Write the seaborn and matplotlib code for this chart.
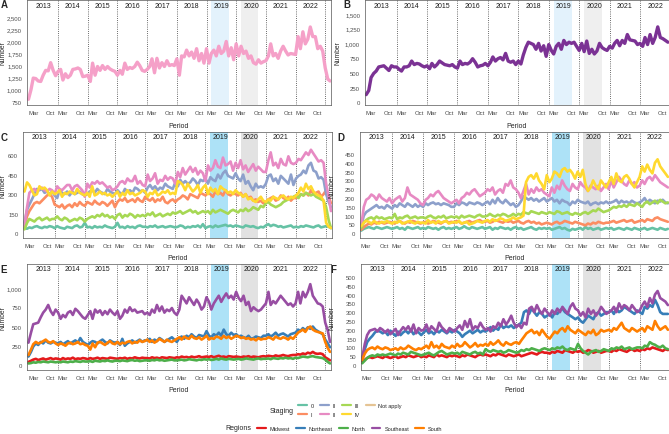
import numpy as np
import pandas as pd
import seaborn as sns
import matplotlib.pyplot as plt
from matplotlib.lines import Line2D

# monthly counts from Jan 2013; panels A, C, E run to Mar 2023, B, D, F to Dec 2022
total_a = [
    800, 1000, 1240, 1230, 1180, 1170, 1300, 1400, 1390, 1560, 1400, 1290,
    1380, 1420, 1200, 1330, 1250, 1300, 1420, 1430, 1450, 1420, 1270, 1280,
    1300, 1170, 1550, 1300, 1480, 1400, 1500, 1420, 1480, 1430, 1400, 1380,
    1300, 1400, 1320, 1550, 1420, 1460, 1440, 1480, 1570, 1500, 1400, 1380,
    1420, 1480, 1640, 1350, 1650, 1450, 1560, 1480, 1600, 1500, 1520, 1500,
    1640, 1300, 1700, 1680, 1820, 1700, 1780, 1650, 1850, 1600, 1750, 1550,
    1850, 1550, 1750, 1820, 1700, 1900, 1750, 1800, 2000, 1700, 1870, 1620,
    1950, 1700, 1900, 1750, 1800, 1650, 1700, 1560, 1530, 1620, 1550, 1580,
    1600, 1700, 1950, 1700, 1750, 1650, 1800, 1900, 1800, 1720, 1750, 1740,
    1730, 2100, 1850, 2200, 1950, 2050, 2300, 2100, 2100, 1850, 1900, 1800,
    1450, 1220, 1180,
]
total_b = [
    130, 200, 420, 490, 530, 600, 610, 620, 580, 540, 620, 600,
    600, 560, 530, 600, 600, 620, 700, 640, 660, 650, 620, 600,
    620, 570, 660, 600, 640, 700, 670, 640, 630, 620, 640, 600,
    580, 700, 640, 660, 650, 680, 740, 680, 600, 620, 630, 660,
    620, 680, 770, 700, 740, 760, 720, 830, 700, 680, 700, 640,
    700, 650, 800, 930, 1020, 1000, 980, 900, 1000, 870, 960, 780,
    980, 880, 820, 950, 1000, 900, 1050, 980, 1020, 1000, 1020, 950,
    880, 1000, 860, 1040, 830, 900, 820, 870, 1000, 930, 900, 880,
    950, 920, 1000, 1050, 960, 1050, 1000, 1150, 1060, 1050, 1040, 980,
    1000, 950, 1100, 980, 1150, 1000, 1100, 1280, 1100, 1080, 1050, 1020,
]

# panel C, by staging
c_stage0 = [
    40, 35, 45, 40, 50, 55, 45, 40, 50, 45, 55, 50,
    40, 55, 45, 40, 35, 50, 45, 40, 55, 60, 45, 50,
    80, 45, 50, 40, 55, 45, 50, 45, 60, 50, 45, 40,
    50, 80, 45, 50, 40, 55, 45, 50, 40, 55, 60, 50,
    50, 45, 55, 50, 60, 45, 50, 55, 45, 50, 55, 50,
    45, 50, 60, 55, 40, 50, 45, 55, 50, 60, 45, 70,
    40, 50, 55, 45, 60, 50, 55, 60, 65, 55, 60, 50,
    60, 55, 50, 45, 60, 55, 50, 55, 45, 40, 50, 45,
    60, 70, 55, 65, 60, 50, 55, 45, 50, 55, 60, 45,
    50, 45, 55, 50, 60, 55, 50, 45, 55, 60, 45, 50,
    55, 50, 40,
]
c_stage1 = [
    50, 130, 170, 200, 230, 240, 230, 250, 270, 290, 300, 280,
    220, 210, 200, 220, 190, 210, 220, 200, 230, 210, 240, 220,
    210, 240, 230, 220, 250, 230, 220, 240, 230, 210, 230, 250,
    200, 240, 260, 250, 270, 240, 250, 260, 240, 270, 250, 240,
    280, 260, 250, 270, 240, 260, 250, 280, 240, 230, 250, 260,
    240, 260, 270, 290, 280, 260, 300, 290, 280, 270, 310, 300,
    290, 310, 300, 280, 320, 300, 310, 290, 330, 300, 290, 310,
    300, 290, 310, 280, 300, 270, 280, 250, 260, 240, 250, 230,
    240, 260, 270, 280, 250, 260, 290, 270, 260, 280, 250, 270,
    270, 280, 300, 290, 310, 290, 330, 300, 310, 320, 280, 300,
    330, 280, 230,
]
c_stage2 = [
    80, 180, 220, 260, 300, 340, 330, 340, 310, 320, 300, 320,
    290, 270, 330, 310, 300, 320, 290, 320, 300, 310, 320, 300,
    290, 300, 320, 330, 310, 340, 320, 310, 300, 340, 320, 310,
    300, 330, 310, 300, 340, 320, 330, 310, 350, 340, 320, 330,
    310, 350, 370, 340, 360, 330, 350, 340, 380, 360, 350, 340,
    390, 360, 410, 380, 400, 380, 390, 420, 400, 370, 410, 400,
    420, 380, 430, 410, 400, 450, 420, 460, 480, 440, 430, 420,
    460, 420, 400, 450, 380, 400, 360, 330, 380, 350, 360, 350,
    380, 440, 450, 400, 420, 380, 440, 420, 400, 380, 450, 370,
    420, 440, 450, 480, 460, 520, 540, 480, 470, 420, 430, 410,
    300, 240, 200,
]
c_stage2b = [
    60, 200, 310, 330, 340, 320, 340, 350, 330, 320, 340, 330,
    300, 360, 340, 330, 350, 370, 370, 330, 360, 370, 350, 330,
    280, 380, 350, 390, 380, 400, 380, 390, 370, 350, 360, 330,
    340, 360, 390, 400, 380, 420, 400, 400, 440, 380, 400, 370,
    360, 450, 400, 420, 460, 380, 410, 400, 440, 410, 430, 420,
    380, 470, 430, 500, 450, 480, 510, 470, 500, 450, 480, 460,
    400, 520, 480, 500, 560, 510, 500, 580, 520, 530, 550, 480,
    540, 500, 560, 490, 520, 470, 500, 530, 480, 510, 490, 470,
    470, 560, 620, 520, 540, 500, 570, 530, 520, 590, 540, 530,
    540, 570, 560, 590, 620, 600, 640, 610, 580, 550, 560, 540,
    380, 280, 170,
]
c_stage3 = [
    30, 80, 110, 100, 90, 110, 120, 100, 110, 120, 100, 110,
    110, 130, 110, 100, 120, 110, 90, 100, 110, 100, 120, 110,
    90, 110, 120, 130, 120, 140, 130, 150, 130, 140, 120, 130,
    110, 140, 150, 120, 140, 130, 150, 140, 120, 140, 130, 140,
    130, 150, 140, 160, 130, 140, 150, 130, 140, 150, 140, 160,
    150, 160, 170, 150, 160, 170, 180, 160, 170, 150, 160, 170,
    160, 170, 150, 180, 160, 170, 180, 170, 160, 150, 170, 180,
    170, 160, 180, 170, 190, 170, 180, 200, 190, 180, 210, 200,
    230, 240, 220, 210, 200, 210, 220, 240, 250, 260, 270, 280,
    290, 270, 300, 290, 310, 300, 290, 300, 280, 270, 260, 250,
    200, 100, 40,
]
c_stage4 = [
    320, 390, 370, 330, 290, 300, 360, 340, 350, 330, 290, 320,
    300, 310, 330, 280, 310, 300, 320, 310, 300, 340, 310, 300,
    290, 310, 280, 360, 290, 300, 320, 300, 310, 290, 300, 280,
    300, 320, 280, 310, 290, 330, 300, 310, 290, 300, 310, 330,
    320, 280, 310, 300, 330, 290, 300, 320, 310, 330, 300, 310,
    300, 400, 390, 370, 330, 380, 350, 320, 340, 370, 310, 350,
    370, 300, 350, 320, 340, 300, 360, 340, 330, 310, 320, 300,
    330, 310, 300, 280, 300, 260, 270, 250, 240, 260, 280, 250,
    240, 260, 250, 280, 270, 260, 280, 290, 270, 260, 280, 270,
    290, 310, 350, 320, 380, 340, 360, 320, 300, 290, 280, 250,
    80, 50, 40,
]

# panel D, by staging
d_stage0 = [
    15, 25, 30, 35, 30, 25, 35, 30, 25, 30, 35, 30,
    25, 30, 35, 25, 30, 20, 35, 30, 25, 30, 35, 25,
    30, 25, 35, 30, 25, 30, 20, 30, 35, 25, 30, 25,
    30, 35, 25, 30, 40, 30, 25, 35, 30, 25, 30, 35,
    25, 30, 35, 20, 30, 25, 35, 30, 25, 30, 20, 30,
    35, 25, 30, 20, 25, 30, 35, 25, 20, 30, 25, 30,
    25, 30, 20, 25, 30, 35, 25, 30, 20, 15, 25, 20,
    25, 30, 20, 35, 25, 30, 20, 25, 30, 20, 25, 30,
    25, 30, 20, 25, 30, 25, 20, 30, 25, 20, 30, 25,
    20, 25, 30, 20, 25, 30, 25, 20, 30, 25, 20, 25,
]
d_stage1 = [
    20, 35, 45, 55, 50, 60, 55, 65, 60, 55, 60, 65,
    60, 55, 65, 70, 60, 55, 65, 60, 70, 65, 60, 55,
    60, 65, 55, 60, 70, 65, 60, 55, 65, 70, 60, 65,
    60, 70, 65, 55, 60, 65, 70, 60, 65, 70, 75, 65,
    65, 70, 60, 65, 75, 70, 65, 60, 70, 65, 70, 60,
    65, 70, 60, 55, 65, 70, 60, 65, 55, 60, 50, 55,
    60, 55, 50, 60, 65, 55, 60, 70, 65, 60, 55, 65,
    60, 55, 50, 45, 55, 50, 60, 55, 65, 60, 55, 60,
    60, 65, 70, 60, 65, 70, 75, 65, 70, 75, 60, 65,
    70, 75, 65, 80, 75, 70, 85, 90, 80, 75, 70, 65,
]
d_stage2 = [
    40, 100, 120, 130, 140, 150, 160, 145, 150, 140, 160, 150,
    140, 160, 150, 170, 160, 150, 170, 160, 150, 165, 150, 160,
    150, 170, 160, 170, 175, 165, 170, 160, 170, 165, 160, 150,
    150, 170, 160, 175, 170, 160, 175, 170, 165, 175, 170, 160,
    170, 180, 165, 190, 170, 200, 180, 170, 190, 175, 160, 170,
    150, 160, 180, 210, 200, 190, 200, 185, 195, 180, 190, 200,
    180, 190, 200, 180, 190, 170, 190, 180, 175, 160, 180, 170,
    190, 180, 175, 170, 180, 160, 170, 175, 165, 175, 170, 180,
    170, 175, 180, 190, 170, 185, 175, 180, 170, 185, 175, 170,
    175, 185, 200, 175, 190, 180, 170, 185, 180, 190, 175, 170,
]
d_stage2b = [
    40, 150, 190, 200, 220, 210, 190, 220, 200, 190, 180, 200,
    170, 190, 200, 210, 180, 200, 260, 220, 210, 200, 190, 170,
    160, 190, 200, 220, 210, 230, 240, 220, 200, 190, 180, 170,
    180, 190, 170, 200, 210, 230, 220, 240, 250, 230, 210, 220,
    230, 250, 240, 260, 220, 240, 250, 230, 280, 270, 300, 260,
    250, 230, 200, 240, 280, 220, 250, 230, 260, 240, 250, 230,
    220, 210, 260, 230, 270, 250, 300, 270, 250, 240, 280, 260,
    250, 290, 270, 260, 240, 270, 260, 250, 270, 240, 260, 280,
    250, 300, 260, 290, 320, 300, 280, 270, 300, 280, 290, 260,
    270, 300, 280, 310, 320, 300, 330, 310, 290, 280, 270, 260,
]
d_stage3 = [
    30, 60, 75, 85, 90, 80, 95, 85, 90, 80, 85, 90,
    85, 110, 80, 90, 85, 95, 100, 85, 90, 95, 85, 90,
    90, 85, 95, 100, 90, 85, 95, 90, 100, 85, 90, 95,
    90, 95, 85, 100, 90, 95, 100, 95, 90, 100, 105, 95,
    95, 100, 110, 100, 95, 105, 100, 110, 105, 95, 100, 110,
    100, 110, 105, 120, 115, 110, 125, 120, 115, 110, 120, 115,
    110, 120, 115, 110, 125, 120, 110, 115, 120, 110, 105, 115,
    110, 105, 115, 120, 110, 120, 130, 125, 140, 130, 120, 125,
    130, 140, 150, 145, 155, 150, 160, 150, 165, 160, 155, 170,
    160, 150, 170, 180, 165, 175, 185, 170, 190, 180, 170, 175,
]
d_stage4 = [
    40, 60, 70, 65, 55, 70, 60, 55, 65, 60, 70, 60,
    55, 65, 60, 70, 55, 60, 65, 70, 60, 55, 65, 60,
    60, 55, 75, 60, 65, 55, 70, 60, 65, 70, 55, 60,
    65, 60, 70, 55, 60, 65, 50, 55, 60, 70, 65, 60,
    70, 75, 65, 80, 70, 75, 85, 80, 70, 75, 80, 90,
    80, 85, 90, 100, 290, 320, 330, 310, 340, 300, 280, 250,
    330, 290, 310, 350, 340, 320, 360, 370, 350, 360, 340, 310,
    350, 320, 360, 280, 240, 260, 300, 270, 250, 300, 280, 260,
    290, 320, 280, 340, 300, 290, 320, 330, 310, 280, 260, 290,
    320, 380, 350, 390, 360, 340, 400, 420, 380, 360, 340, 320,
]

# panel E, by region
e_midwest = [
    40, 55, 70, 80, 65, 75, 85, 70, 80, 90, 75, 85,
    80, 70, 90, 75, 85, 80, 95, 75, 85, 80, 90, 85,
    75, 90, 80, 85, 95, 80, 90, 85, 80, 95, 90, 85,
    80, 90, 85, 95, 80, 90, 85, 100, 90, 85, 95, 90,
    90, 85, 100, 90, 95, 85, 100, 95, 90, 100, 95, 90,
    100, 95, 110, 100, 105, 95, 110, 100, 105, 115, 100, 105,
    110, 105, 115, 100, 110, 120, 105, 110, 100, 115, 110, 105,
    110, 105, 100, 110, 105, 115, 100, 110, 105, 100, 110, 115,
    110, 120, 115, 110, 125, 115, 120, 130, 120, 115, 125, 130,
    130, 140, 135, 150, 140, 160, 150, 170, 150, 145, 150, 140,
    100, 80, 60,
]
e_northeast = [
    110, 170, 240, 280, 260, 300, 280, 320, 290, 280, 300, 290,
    280, 300, 270, 290, 310, 280, 300, 320, 290, 350, 300, 280,
    260, 290, 310, 300, 280, 310, 330, 300, 280, 320, 300, 290,
    300, 260, 340, 250, 280, 300, 320, 290, 310, 330, 300, 320,
    320, 340, 300, 330, 310, 350, 330, 300, 320, 340, 360, 330,
    300, 350, 370, 340, 380, 360, 400, 370, 350, 390, 380, 370,
    440, 380, 360, 400, 380, 420, 380, 460, 400, 380, 420, 390,
    400, 370, 380, 360, 350, 380, 340, 350, 370, 360, 350, 380,
    380, 400, 370, 390, 420, 380, 400, 410, 390, 370, 400, 410,
    420, 460, 440, 480, 450, 490, 470, 500, 460, 440, 420, 400,
    330, 280, 230,
]
e_north = [
    20, 25, 35, 30, 40, 35, 45, 40, 35, 45, 40, 35,
    40, 35, 45, 40, 35, 45, 40, 50, 45, 40, 50, 45,
    45, 50, 40, 55, 50, 45, 55, 50, 60, 50, 45, 55,
    55, 50, 60, 55, 50, 60, 65, 55, 60, 50, 55, 60,
    60, 55, 65, 60, 70, 60, 65, 55, 60, 65, 70, 60,
    60, 65, 70, 60, 65, 75, 70, 65, 60, 70, 65, 75,
    70, 75, 65, 70, 80, 70, 85, 75, 70, 80, 75, 70,
    75, 80, 70, 75, 85, 80, 75, 70, 80, 85, 75, 80,
    80, 85, 75, 90, 85, 80, 90, 85, 95, 85, 90, 80,
    95, 90, 100, 110, 105, 100, 110, 115, 105, 100, 95, 90,
    70, 40, 20,
]
e_southeast = [
    290, 420, 530, 540, 550, 620, 680, 720, 780, 700, 650, 720,
    680, 600, 650, 620, 680, 700, 650, 730, 700, 660, 620, 600,
    650, 700, 600, 720, 680, 710, 650, 700, 660, 720, 680, 650,
    700, 600, 640, 720, 680, 750, 700, 720, 680, 690, 700, 660,
    680, 650, 720, 680, 780, 700, 760, 680, 720, 700, 740, 680,
    650, 720, 900, 850, 800, 880, 830, 780, 850, 800, 720, 760,
    880, 820, 720, 800, 850, 900, 820, 880, 930, 870, 900, 850,
    950, 870, 830, 900, 780, 820, 700, 750, 720, 700, 720, 760,
    800, 950, 780, 830, 800, 850, 900, 860, 820, 780, 800, 760,
    800, 950, 800, 950, 880, 950, 1050, 900, 850, 800, 790, 760,
    550, 450, 300,
]
e_south = [
    130, 200, 270, 300, 280, 290, 310, 330, 300, 290, 310, 280,
    260, 280, 270, 250, 280, 290, 270, 280, 300, 270, 280, 260,
    250, 200, 280, 230, 290, 300, 280, 260, 290, 310, 280, 270,
    300, 270, 290, 280, 300, 310, 280, 300, 290, 320, 300, 310,
    330, 300, 320, 290, 310, 340, 320, 300, 330, 310, 300, 320,
    340, 360, 330, 370, 350, 340, 380, 350, 340, 360, 330, 350,
    380, 330, 350, 340, 370, 360, 340, 380, 350, 370, 340, 360,
    380, 370, 350, 360, 340, 350, 330, 340, 320, 350, 330, 340,
    340, 360, 350, 330, 370, 350, 340, 360, 350, 330, 360, 340,
    380, 420, 440, 460, 430, 480, 500, 460, 440, 430, 420, 410,
    300, 220, 170,
]

# panel F, by region
f_midwest = [
    20, 30, 40, 45, 40, 45, 50, 45, 40, 50, 45, 40,
    45, 50, 40, 45, 50, 45, 55, 50, 45, 50, 55, 45,
    50, 45, 55, 50, 45, 60, 50, 55, 50, 45, 55, 50,
    55, 50, 45, 55, 50, 60, 55, 50, 45, 55, 60, 55,
    60, 55, 50, 60, 55, 65, 60, 55, 50, 60, 55, 50,
    55, 60, 50, 55, 60, 65, 70, 65, 60, 70, 75, 70,
    70, 65, 75, 70, 80, 75, 70, 85, 80, 75, 70, 80,
    75, 80, 70, 75, 85, 80, 70, 75, 80, 70, 75, 80,
    80, 75, 85, 80, 90, 85, 80, 75, 85, 90, 80, 85,
    80, 90, 85, 95, 90, 100, 95, 90, 85, 80, 90, 85,
]
f_northeast = [
    30, 90, 130, 150, 165, 185, 195, 190, 180, 190, 170, 195,
    180, 165, 190, 170, 185, 195, 180, 200, 175, 190, 185, 170,
    185, 200, 180, 190, 175, 195, 185, 200, 190, 180, 195, 185,
    200, 190, 180, 160, 175, 185, 195, 180, 190, 200, 185, 195,
    190, 200, 215, 195, 210, 200, 230, 210, 220, 215, 225, 210,
    220, 230, 240, 300, 310, 290, 320, 300, 280, 300, 290, 270,
    280, 290, 270, 300, 290, 310, 320, 300, 290, 280, 270, 260,
    270, 250, 240, 260, 280, 270, 260, 290, 300, 280, 290, 300,
    300, 310, 290, 320, 300, 310, 330, 320, 310, 300, 290, 310,
    300, 290, 330, 320, 340, 330, 370, 340, 300, 290, 290, 290,
]
f_north = [
    10, 25, 40, 50, 55, 50, 60, 55, 60, 55, 60, 65,
    60, 55, 65, 60, 70, 65, 60, 75, 70, 65, 60, 55,
    60, 65, 70, 60, 55, 65, 75, 80, 70, 60, 65, 70,
    65, 70, 60, 75, 70, 65, 60, 70, 75, 65, 70, 60,
    90, 80, 75, 85, 80, 75, 80, 70, 75, 85, 80, 75,
    70, 75, 85, 80, 90, 85, 95, 90, 85, 80, 90, 95,
    90, 85, 95, 90, 100, 95, 105, 90, 85, 95, 90, 85,
    120, 95, 80, 70, 60, 75, 80, 85, 75, 80, 90, 85,
    80, 95, 90, 100, 95, 105, 90, 95, 100, 90, 95, 100,
    100, 95, 110, 105, 130, 120, 115, 105, 100, 110, 95, 90,
]
f_southeast = [
    40, 120, 170, 195, 200, 205, 190, 210, 200, 185, 200, 175,
    190, 205, 170, 195, 215, 200, 220, 190, 230, 180, 210, 195,
    200, 230, 190, 220, 205, 190, 240, 215, 200, 185, 210, 200,
    190, 210, 225, 200, 250, 215, 260, 200, 220, 210, 240, 215,
    200, 210, 190, 220, 210, 240, 220, 260, 230, 250, 280, 240,
    215, 230, 210, 240, 230, 320, 330, 300, 340, 310, 290, 320,
    300, 280, 310, 290, 320, 300, 330, 310, 290, 330, 350, 320,
    310, 280, 300, 270, 320, 290, 310, 280, 300, 330, 310, 290,
    300, 310, 330, 300, 350, 320, 340, 330, 310, 340, 320, 300,
    310, 340, 360, 330, 380, 350, 400, 420, 380, 370, 360, 340,
]
f_south = [
    30, 65, 85, 95, 100, 90, 105, 95, 90, 100, 95, 85,
    90, 95, 85, 100, 90, 95, 110, 100, 90, 85, 95, 90,
    100, 110, 95, 130, 100, 110, 95, 120, 105, 100, 95, 110,
    100, 120, 105, 110, 130, 115, 100, 110, 125, 105, 115, 110,
    120, 110, 130, 115, 125, 140, 120, 110, 130, 120, 115, 125,
    130, 120, 140, 160, 180, 190, 200, 180, 190, 170, 200, 180,
    160, 150, 170, 190, 180, 200, 210, 190, 220, 200, 190, 180,
    200, 190, 180, 170, 190, 180, 200, 170, 180, 200, 190, 195,
    200, 190, 210, 200, 220, 240, 210, 200, 190, 210, 200, 190,
    200, 210, 190, 220, 210, 200, 250, 220, 200, 210, 220, 200,
]

stage_keys = ['0', 'I', 'II', 'IIb', 'III', 'IV', 'NA']
stage_labels = ['0', 'I', 'II', 'II', 'III', 'IV', 'Not apply']
stage_colors = ['#66C2A5', '#FC8D62', '#8DA0CB', '#E78AC3', '#A6D854', '#FFD92F', '#E5C494']
region_names = ['Midwest', 'Northeast', 'North', 'Southeast', 'South']
region_colors = ['#E41A1C', '#377EB8', '#4DAF4A', '#984EA3', '#FF7F00']

years = list(range(2013, 2023))
ticks_a = [750, 1000, 1250, 1500, 1750, 2000, 2250, 2500]
ticks_b = [0, 250, 500, 750, 1000, 1250, 1500]
ticks_c = [0, 150, 300, 450, 600]
ticks_d = [0, 50, 100, 150, 200, 250, 300, 350, 400, 450]
ticks_e = [0, 250, 500, 750, 1000]
ticks_f = [0, 50, 100, 150, 200, 250, 300, 350, 400, 450, 500]

months_long = pd.date_range('2013-01-01', periods=123, freq='MS')
months_short = months_long[:120]


def long_df(dates, names, series):
    return pd.DataFrame({
        'date': np.tile(dates, len(names)),
        'value': np.concatenate([np.asarray(s, dtype=float) for s in series]),
        'group': np.repeat(names, len(dates)),
    })


sns.set_style('white')
plt.rcParams['font.family'] = ['Liberation Sans', 'DejaVu Sans']

W, H = 669, 435
fig = plt.figure(figsize=(W / 100, H / 100), dpi=100)


def add_panel(l, t, r, b):
    return fig.add_axes([l / W, 1 - b / H, (r - l) / W, (b - t) / H])


def style_panel(ax, box, xlim, ylim, yticks, strong, label, letter_xy, number_x, text_off):
    l, t, r, b = box
    hpx = b - t
    wpx = r - l
    band_blue, band_grey = ('#ADE2F7', '#E2E2E2') if strong else ('#E3F2FC', '#EFEFEF')
    ax.axvspan(pd.Timestamp('2019-03-01'), pd.Timestamp('2019-10-01'), color=band_blue, lw=0, zorder=0)
    ax.axvspan(pd.Timestamp('2020-03-01'), pd.Timestamp('2020-10-01'), color=band_grey, lw=0, zorder=0)
    for y in range(2014, 2024):
        ax.axvline(pd.Timestamp(f'{y}-01-01'), color='#3a3a3a', lw=0.6, ls=(0, (1, 1.6)), zorder=1)
    for y in years:
        ax.text(pd.Timestamp(f'{y}-07-02'), 1 - text_off / hpx, str(y), transform=ax.get_xaxis_transform(),
                ha='center', va='center', fontsize=5, color='#1a1a1a', clip_on=True)
    ax.set_xlim(*xlim)
    ax.set_ylim(*ylim)
    xt = []
    xl = []
    for y in years:
        xt += [pd.Timestamp(f'{y}-03-01'), pd.Timestamp(f'{y}-10-01')]
        xl += ['Mar', 'Oct']
    ax.set_xticks(xt)
    ax.set_xticklabels(xl)
    ax.set_yticks(yticks)
    ax.set_yticklabels([f'{v:,}' for v in yticks])
    ax.tick_params(length=2, width=0.5, color='#555555', labelsize=4.3, labelcolor='#4D4D4D', pad=1.5)
    for s in ax.spines.values():
        s.set_color('#555555')
        s.set_linewidth(0.5)
    ax.set_xlabel('Period', fontsize=5)
    ax.set_ylabel('Number', fontsize=4.8)
    ax.xaxis.set_label_coords(0.5, -16.5 / hpx)
    # number_x is the label's centre; the label's anchor is its right edge
    ax.yaxis.set_label_coords((number_x + 3.0 - l) / wpx, 0.5)
    fig.text(letter_xy[0] / W, 1 - letter_xy[1] / H, label, fontsize=7, fontweight='bold', va='top', ha='left')


xlim_long = (pd.Timestamp('2012-12-14'), pd.Timestamp('2023-03-13'))
xlim_short = (pd.Timestamp('2012-12-18'), pd.Timestamp('2022-12-08'))

# A
box = (27, 0.5, 331, 106)
ax = add_panel(*box)
df = pd.DataFrame({'date': months_long, 'value': total_a})
sns.lineplot(data=df, x='date', y='value', color='#F5A0C8', linewidth=2.4, ax=ax)
style_panel(ax, box, xlim_long, (682, 2870), ticks_a, False, 'A', (1, 0), 3.3, 6)

# B
box = (365, 0.5, 668.5, 106)
ax = add_panel(*box)
df = pd.DataFrame({'date': months_short, 'value': total_b})
sns.lineplot(data=df, x='date', y='value', color='#7B3294', linewidth=2.4, ax=ax)
style_panel(ax, box, xlim_short, (-46, 1745), ticks_b, False, 'B', (343, 0), 339, 6)

# C
box = (23, 133, 332, 239)
ax = add_panel(*box)
df = long_df(months_long, stage_keys[:6],
             [c_stage0, c_stage1, c_stage2, c_stage2b, c_stage3, c_stage4])
sns.lineplot(data=df, x='date', y='value', hue='group', hue_order=stage_keys[:6],
             palette=stage_colors[:6], linewidth=1.9, legend=False, errorbar=None, ax=ax)
style_panel(ax, box, xlim_long, (-36, 776), ticks_c, True, 'C', (1, 133), 3.3, 4.5)

# D
box = (360, 133, 668.5, 239)
ax = add_panel(*box)
df = long_df(months_short, stage_keys[:6],
             [d_stage0, d_stage1, d_stage2, d_stage2b, d_stage3, d_stage4])
sns.lineplot(data=df, x='date', y='value', hue='group', hue_order=stage_keys[:6],
             palette=stage_colors[:6], linewidth=1.9, legend=False, errorbar=None, ax=ax)
style_panel(ax, box, xlim_short, (-27, 575), ticks_d, True, 'D', (337, 133), 333, 4.5)

# E
box = (27, 265, 331, 371)
ax = add_panel(*box)
df = long_df(months_long, region_names,
             [e_midwest, e_northeast, e_north, e_southeast, e_south])
sns.lineplot(data=df, x='date', y='value', hue='group', hue_order=region_names,
             palette=region_colors, linewidth=1.9, legend=False, errorbar=None, ax=ax)
style_panel(ax, box, xlim_long, (-65, 1312), ticks_e, True, 'E', (0.5, 265), 3.3, 4.5)

# F
box = (361, 265, 668.5, 371)
ax = add_panel(*box)
df = long_df(months_short, region_names,
             [f_midwest, f_northeast, f_north, f_southeast, f_south])
sns.lineplot(data=df, x='date', y='value', hue='group', hue_order=region_names,
             palette=region_colors, linewidth=1.9, legend=False, errorbar=None, ax=ax)
style_panel(ax, box, xlim_short, (-28, 573), ticks_f, True, 'F', (330, 265), 333, 4.5)

# legends
stage_handles = [Line2D([], [], color=c, lw=1.6) for c in stage_colors]
fig.legend(stage_handles, stage_labels, ncol=4, loc='upper left',
           bbox_to_anchor=(295 / W, 1 - 401 / H), frameon=False, fontsize=4,
           handlelength=1.6, handletextpad=0.7, columnspacing=1.1, labelspacing=0.75, borderpad=0)
fig.text(270 / W, 1 - 411.5 / H, 'Staging', fontsize=5, va='center', ha='left')

region_handles = [Line2D([], [], color=c, lw=1.6) for c in region_colors]
fig.legend(region_handles, region_names, ncol=5, loc='upper left',
           bbox_to_anchor=(254 / W, 1 - 424.5 / H), frameon=False, fontsize=4,
           handlelength=1.6, handletextpad=0.7, columnspacing=1.1, borderpad=0)
fig.text(225 / W, 1 - 428.5 / H, 'Regions', fontsize=5, va='center', ha='left')

fig.savefig('out.png', dpi=100)
